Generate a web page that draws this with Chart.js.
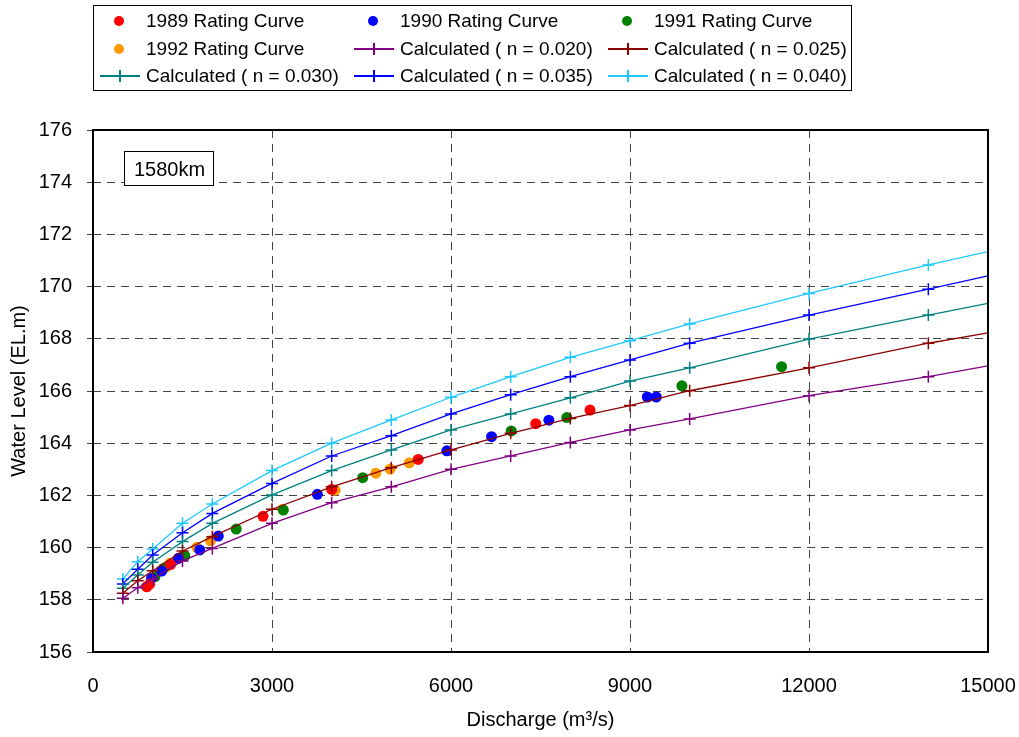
<!DOCTYPE html>
<html>
<head>
<meta charset="utf-8">
<script src="https://cdn.jsdelivr.net/npm/chart.js@4"></script>
<style>
  body { margin: 0; background: #fff; }
  #wrap { width: 1019px; height: 737px; }
</style>
</head>
<body>
<div id="wrap"><canvas id="chart" width="1019" height="737"></canvas></div>
<script>
// calculated curves
const discharge = [500, 750, 1000, 1500, 2000, 3000, 4000, 5000, 6000, 7000, 8000, 9000, 10000, 12000, 14000, 15000];
const n020 = [158.06, 158.46, 158.80, 159.49, 159.97, 160.93, 161.72, 162.33, 163.00, 163.51, 164.03, 164.51, 164.93, 165.82, 166.55, 166.96];
const n025 = [158.25, 158.73, 159.11, 159.87, 160.42, 161.47, 162.33, 163.06, 163.74, 164.38, 164.95, 165.44, 166.01, 166.89, 167.83, 168.23];
const n030 = [158.44, 158.95, 159.44, 160.23, 160.93, 162.02, 162.95, 163.74, 164.51, 165.12, 165.74, 166.38, 166.89, 167.99, 168.91, 169.36];
const n035 = [158.61, 159.17, 159.72, 160.57, 161.31, 162.46, 163.51, 164.29, 165.12, 165.86, 166.55, 167.19, 167.83, 168.91, 169.90, 170.41];
const n040 = [158.80, 159.46, 159.95, 160.93, 161.67, 162.95, 164.00, 164.89, 165.76, 166.55, 167.29, 167.93, 168.57, 169.74, 170.83, 171.34];

// observed rating curves
const q1989 = [900, 950, 1300, 2850, 4000, 5450, 7420, 8330];
const h1989 = [158.50, 158.60, 159.35, 161.20, 162.23, 163.38, 164.75, 165.27];
const q1990 = [980, 1150, 1430, 1790, 2100, 3760, 5930, 6680, 7640, 9290, 9440];
const h1990 = [158.82, 159.10, 159.59, 159.91, 160.44, 162.04, 163.71, 164.25, 164.88, 165.77, 165.77];
const q1991 = [1040, 1180, 1540, 2400, 3190, 4520, 7010, 7940, 9870, 11540];
const h1991 = [158.89, 159.20, 159.68, 160.71, 161.44, 162.68, 164.47, 164.98, 166.20, 166.93];
const q1992 = [1235, 1290, 1740, 1970, 3180, 4060, 4740, 4980, 5300];
const h1992 = [159.27, 159.40, 160.01, 160.26, 161.47, 162.20, 162.85, 163.01, 163.25];

const xTicks = [0, 3000, 6000, 9000, 12000, 15000];
const stationLabel = '1580km';

const FONT = '"Liberation Sans", Arial, sans-serif';

function pairs(xs, ys) {
    return xs.map((x, i) => ({ x: x, y: ys[i] }));
}

function observed(label, xs, ys, color) {
    return {
        label: label,
        data: pairs(xs, ys),
        backgroundColor: color,
        borderColor: color,
        pointRadius: 5.5,
        pointBorderWidth: 0,
        showLine: false,
        order: 1
    };
}

function calculated(label, ys, color) {
    const last = discharge.length - 1;
    return {
        label: label,
        data: pairs(discharge, ys),
        borderColor: color,
        backgroundColor: color,
        borderWidth: 1.3,
        showLine: true,
        pointStyle: 'cross',
        pointRadius: ctx => ctx.dataIndex === last ? 0 : 6,
        pointBorderWidth: 1.5,
        order: 0
    };
}

const datasets = [
    observed('1989 Rating Curve', q1989, h1989, '#ff0000'),
    observed('1990 Rating Curve', q1990, h1990, '#0000ff'),
    observed('1991 Rating Curve', q1991, h1991, '#008000'),
    observed('1992 Rating Curve', q1992, h1992, '#ff9900'),
    calculated('Calculated ( n = 0.020)', n020, '#800080'),
    calculated('Calculated ( n = 0.025)', n025, '#8b0000'),
    calculated('Calculated ( n = 0.030)', n030, '#008080'),
    calculated('Calculated ( n = 0.035)', n035, '#0000ff'),
    calculated('Calculated ( n = 0.040)', n040, '#1ec8ff')
];

// legend drawn as a 3 x 3 grid inside a box
const gridLegend = {
    id: 'gridLegend',
    afterDraw(chart) {
        const ctx = chart.ctx;
        const colX = [100, 354, 608];
        const rowY = [21, 49, 76];
        ctx.save();
        ctx.strokeStyle = '#000';
        ctx.lineWidth = 1;
        ctx.strokeRect(93.5, 5.5, 758, 85);
        ctx.font = '19px ' + FONT;
        ctx.textBaseline = 'middle';
        ctx.fillStyle = '#000';
        chart.data.datasets.forEach((ds, i) => {
            const x = colX[i % 3];
            const y = rowY[Math.floor(i / 3)];
            if (ds.showLine) {
                ctx.strokeStyle = ds.borderColor;
                ctx.lineWidth = 2;
                ctx.beginPath();
                ctx.moveTo(x, y); ctx.lineTo(x + 40, y);
                ctx.moveTo(x + 20, y - 6); ctx.lineTo(x + 20, y + 6);
                ctx.stroke();
            } else {
                ctx.fillStyle = ds.backgroundColor;
                ctx.beginPath();
                ctx.arc(x + 19, y, 5, 0, Math.PI * 2);
                ctx.fill();
            }
            ctx.fillStyle = '#000';
            ctx.fillText(ds.label, x + 46, y + 1);
        });
        ctx.restore();
    }
};

// station box and plot frame
const frameAndLabel = {
    id: 'frameAndLabel',
    beforeDatasetsDraw(chart) {
        const ctx = chart.ctx;
        const a = chart.chartArea;
        ctx.save();
        const bx = a.left + 31, by = a.top + 21, bw = 89, bh = 34;
        ctx.fillStyle = '#fff';
        ctx.fillRect(bx, by, bw, bh);
        ctx.strokeStyle = '#000';
        ctx.lineWidth = 1;
        ctx.strokeRect(bx + 0.5, by + 0.5, bw, bh);
        ctx.fillStyle = '#000';
        ctx.font = '20px ' + FONT;
        ctx.textAlign = 'center';
        ctx.textBaseline = 'middle';
        ctx.fillText(stationLabel, bx + bw / 2 + 1, by + bh / 2 + 2);
        ctx.restore();
    },
    afterDraw(chart) {
        const ctx = chart.ctx;
        const a = chart.chartArea;
        ctx.save();
        ctx.strokeStyle = '#000';
        ctx.lineWidth = 2;
        ctx.strokeRect(a.left, a.top, a.right - a.left, a.bottom - a.top);
        ctx.restore();
    }
};

new Chart(document.getElementById('chart'), {
    type: 'scatter',
    data: { datasets: datasets },
    plugins: [gridLegend, frameAndLabel],
    options: {
        responsive: false,
        animation: false,
        layout: { padding: { top: 130, right: 31, bottom: 0, left: 0 } },
        plugins: {
            legend: { display: false },
            tooltip: { enabled: false }
        },
        scales: {
            x: {
                type: 'linear',
                min: 0,
                max: 15000,
                afterFit: s => { s.height = 85; s.paddingLeft = 0; s.paddingRight = 0; },
                afterBuildTicks: s => { s.ticks = xTicks.map(v => ({ value: v })); },
                ticks: {
                    padding: 22,
                    color: '#000',
                    font: { family: FONT, size: 20 },
                    callback: v => String(v)
                },
                grid: { color: '#444', lineWidth: 1, drawTicks: false },
                border: { display: false, dash: [8, 6] },
                title: {
                    display: true,
                    text: 'Discharge (m³/s)',
                    color: '#000',
                    font: { family: FONT, size: 20 },
                    padding: { top: 0, bottom: 5 }
                }
            },
            y: {
                min: 156,
                max: 176,
                afterFit: s => { s.width = 93; s.paddingTop = 0; s.paddingBottom = 0; },
                ticks: {
                    stepSize: 2,
                    padding: 15,
                    color: '#000',
                    font: { family: FONT, size: 20 }
                },
                grid: { color: '#444', lineWidth: 1, tickLength: 6 },
                border: { display: false, dash: [8, 6] },
                title: {
                    display: true,
                    text: 'Water Level (EL.m)',
                    color: '#000',
                    font: { family: FONT, size: 20 },
                    padding: { top: 7, bottom: 0 }
                }
            }
        }
    }
});
</script>
</body>
</html>
